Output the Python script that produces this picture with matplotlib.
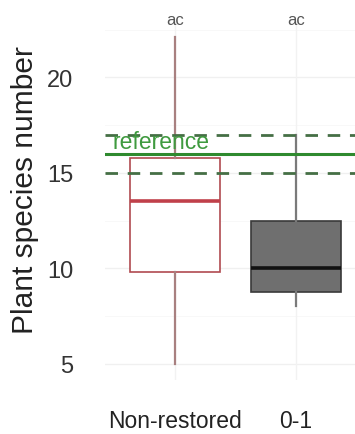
import matplotlib
matplotlib.use("Agg")
import matplotlib.pyplot as plt

plt.rcParams['font.family'] = ['Liberation Sans', 'DejaVu Sans']

# Groups and their box summaries (species counts)
groups = ["Non-restored", "0-1"]
whisker_low = [5.0, 8.0]
q1 = [9.8, 8.75]
medians = [13.5, 10.0]
q3 = [15.8, 12.5]
whisker_high = [22.1, 17.0]
letters = ["ac", "ac"]

# Reference site richness (mean and band)
ref_mean = 16.0
ref_low = 15.0
ref_high = 17.0
ref_label = "reference"

y_ticks = [5, 10, 15, 20]

fig = plt.figure(figsize=(3.55, 4.35), dpi=100)
W, H = 355, 435
left, right, top, bottom = 105, 355, 22, 381
ax = fig.add_axes([left / W, 1 - bottom / H, (right - left) / W, (bottom - top) / H])

ax.set_xlim(0.42, 2.49)
ax.set_ylim(4.15, 22.95)

# faint minimal-theme grid
for y in y_ticks:
    ax.axhline(y, color="#f0f0f0", lw=1.0, zorder=0)
for y in [7.5, 12.5, 17.5, 22.5]:
    ax.axhline(y, color="#f7f7f7", lw=0.6, zorder=0)
for x in range(1, len(groups) + 1):
    ax.axvline(x, color="#f2f2f2", lw=1.0, zorder=0)

stats = []
for i, g in enumerate(groups):
    stats.append(dict(label=g, whislo=whisker_low[i], q1=q1[i], med=medians[i],
                      q3=q3[i], whishi=whisker_high[i], fliers=[]))

styles = [
    dict(face="white", edge="#b04a50", whisk="#a88080", med="#c0404a"),
    dict(face="#6f6f6f", edge="#3a3a3a", whisk="#7a7a7a", med="#111111"),
]

for i, s in enumerate(stats):
    st = styles[i]
    ax.bxp([s], positions=[i + 1], widths=0.75, showcaps=False, patch_artist=True,
           boxprops=dict(facecolor=st["face"], edgecolor=st["edge"], linewidth=1.2),
           whiskerprops=dict(color=st["whisk"], linewidth=1.6),
           medianprops=dict(color=st["med"], linewidth=2.6),
           showfliers=False, zorder=2)

# reference band
ax.axhline(ref_mean, color="#2f8a2f", lw=2.2, zorder=3)
ax.axhline(ref_high, color="#456f45", lw=2.0, ls=(0, (4.5, 3.5)), zorder=3)
ax.axhline(ref_low, color="#456f45", lw=2.0, ls=(0, (4.5, 3.5)), zorder=3)
ax.text(0.48, ref_mean + 0.05, ref_label, color="#3f9a3f", fontsize=16.5,
        ha="left", va="bottom", zorder=4)

# significance letters
for i, lab in enumerate(letters):
    ax.text(i + 1, 23.05, lab, color="#555555", fontsize=12, ha="center",
            va="center", clip_on=False)

ax.set_xticks(range(1, len(groups) + 1))
ax.set_xticklabels(groups)
ax.set_yticks(y_ticks)
ax.set_yticklabels([str(v) for v in y_ticks])
ax.tick_params(axis="y", length=0, pad=23, labelsize=17, labelcolor="#333333")
ax.tick_params(axis="x", length=0, pad=21, labelsize=16.5, labelcolor="#222222")
for sp in ax.spines.values():
    sp.set_visible(False)

fig.text(25 / W, 1 - 190 / H, "Plant species number", rotation=90, fontsize=21.5,
         ha="center", va="center", color="#222222")

fig.savefig("out.png", dpi=100, facecolor="white")
